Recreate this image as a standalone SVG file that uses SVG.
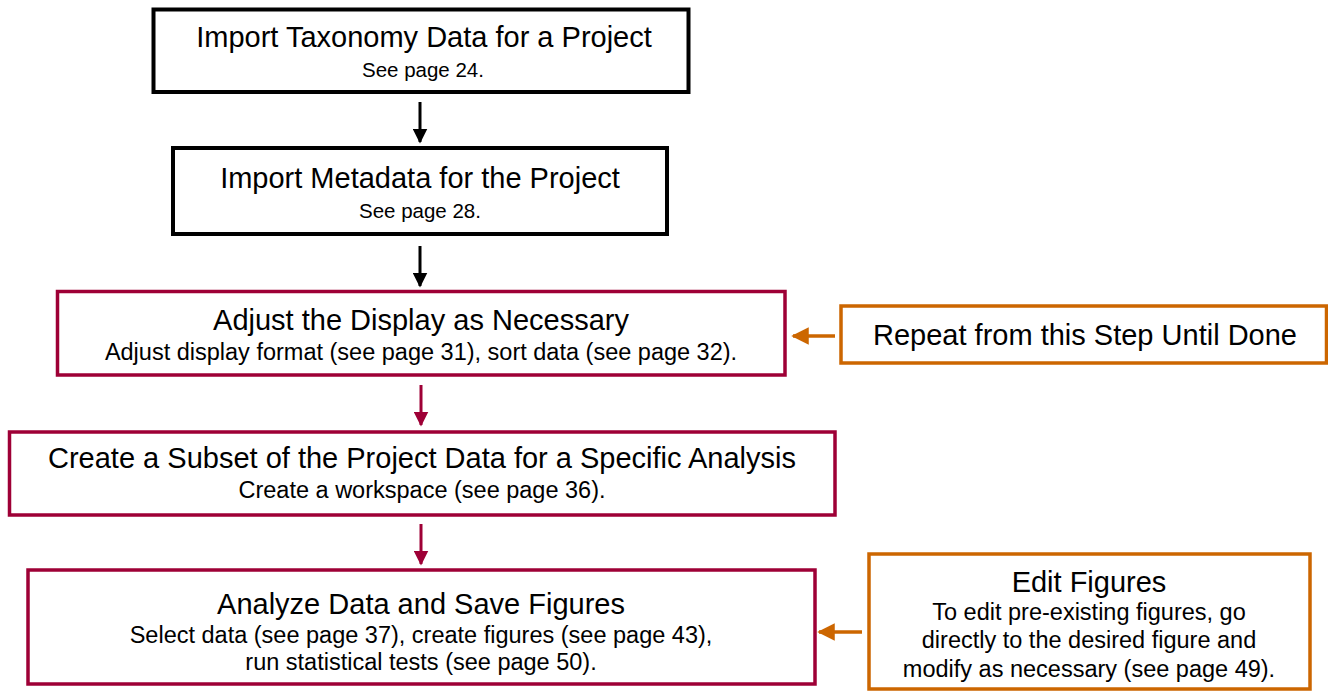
<svg xmlns="http://www.w3.org/2000/svg" width="1328" height="691" viewBox="0 0 1328 691">
<style>
text{font-family:"Liberation Sans",Arial,Helvetica,sans-serif;fill:#000;text-anchor:middle}
.t{font-size:29px}
.s{font-size:20.5px}
.m{font-size:23.5px}
.blk{fill:#fff;stroke:#000;stroke-width:4}
.red{fill:#fff;stroke:#9E0036;stroke-width:3.5}
.org{fill:#fff;stroke:#CC6600;stroke-width:3.5}
.cb{stroke:#000;stroke-width:3;fill:none}
.cr{stroke:#9E0036;stroke-width:3;fill:none}
.co{stroke:#CC6600;stroke-width:3.5;fill:none}
</style>
<defs>
<marker id="ab" markerWidth="5" markerHeight="5" refX="4.5" refY="2.5" orient="auto" markerUnits="strokeWidth"><path d="M0,0 L5,2.5 L0,5 z" fill="#000"/></marker>
<marker id="ar" markerWidth="5" markerHeight="5" refX="4.5" refY="2.5" orient="auto" markerUnits="strokeWidth"><path d="M0,0 L5,2.5 L0,5 z" fill="#9E0036"/></marker>
<marker id="ao" markerWidth="5" markerHeight="5" refX="4.5" refY="2.5" orient="auto" markerUnits="strokeWidth"><path d="M0,0 L5,2.5 L0,5 z" fill="#CC6600"/></marker>
</defs>
<rect width="1328" height="691" fill="#fff"/>
<g id="connectors">
<line class="cb" x1="420" y1="102" x2="420" y2="142" marker-end="url(#ab)"/>
<line class="cb" x1="420" y1="246" x2="420" y2="286" marker-end="url(#ab)"/>
<line class="cr" x1="421" y1="385" x2="421" y2="425" marker-end="url(#ar)"/>
<line class="cr" x1="421" y1="524" x2="421" y2="564" marker-end="url(#ar)"/>
<line class="co" x1="835" y1="336" x2="793" y2="336" marker-end="url(#ao)"/>
<line class="co" x1="862" y1="632" x2="819" y2="632" marker-end="url(#ao)"/>
</g>
<g id="n1">
<rect class="blk" x="153.5" y="9.5" width="535" height="82.5"/>
<text class="t" x="424" y="47">Import Taxonomy Data for a Project</text>
<text class="s" x="423" y="77">See page 24.</text>
</g>
<g id="n2">
<rect class="blk" x="173" y="148" width="494" height="86"/>
<text class="t" x="420" y="188">Import Metadata for the Project</text>
<text class="s" x="420" y="218">See page 28.</text>
</g>
<g id="n3">
<rect class="red" x="57.5" y="291.5" width="727.5" height="83.5"/>
<text class="t" x="421" y="330">Adjust the Display as Necessary</text>
<text class="m" x="421" y="360">Adjust display format (see page 31), sort data (see page 32).</text>
</g>
<g id="n4">
<rect class="red" x="9.5" y="432" width="825.5" height="83"/>
<text class="t" x="422" y="468">Create a Subset of the Project Data for a Specific Analysis</text>
<text class="m" x="422" y="498">Create a workspace (see page 36).</text>
</g>
<g id="n5">
<rect class="red" x="28" y="570" width="787" height="114"/>
<text class="t" x="421" y="614">Analyze Data and Save Figures</text>
<text class="m" x="421" y="643">Select data (see page 37), create figures (see page 43),</text>
<text class="m" x="421" y="670">run statistical tests (see page 50).</text>
</g>
<g id="n6">
<rect class="org" x="841" y="306" width="485.5" height="57"/>
<text class="t" x="1085" y="345">Repeat from this Step Until Done</text>
</g>
<g id="n7">
<rect class="org" x="869" y="554" width="441" height="135"/>
<text class="t" x="1089" y="592">Edit Figures</text>
<text class="m" x="1089" y="620">To edit pre-existing figures, go</text>
<text class="m" x="1089" y="648">directly to the desired figure and</text>
<text class="m" x="1089" y="677">modify as necessary (see page 49).</text>
</g>
</svg>
